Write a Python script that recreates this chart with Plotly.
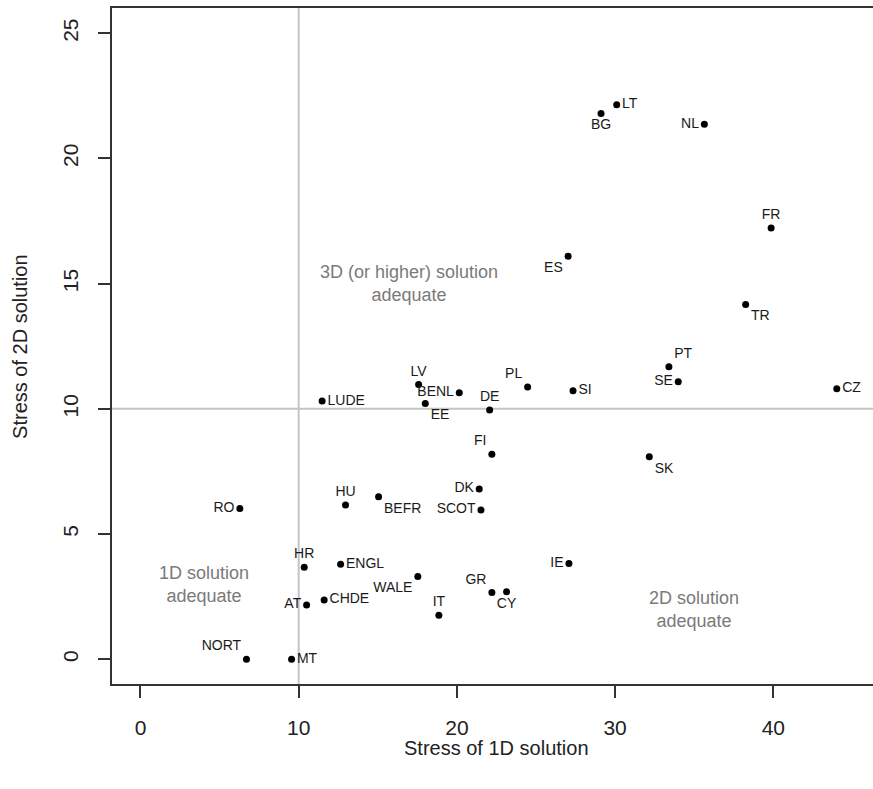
import plotly.graph_objects as go

# ---- data ----
countries = ["LT", "BG", "NL", "FR", "ES", "TR", "PT", "SE", "CZ", "SK",
             "SI", "PL", "DE", "FI", "LV", "BENL", "EE", "LUDE", "RO", "HU",
             "BEFR", "DK", "SCOT", "HR", "ENGL", "WALE", "IE", "GR", "CY", "AT",
             "CHDE", "IT", "NORT", "MT"]
stress_1d = [30.10, 29.11, 35.64, 39.86, 27.03, 38.25, 33.40, 33.99, 44.01, 32.16,
             27.34, 24.47, 22.07, 22.21, 17.58, 20.15, 18.00, 11.48, 6.28, 12.96,
             15.05, 21.41, 21.52, 10.35, 12.65, 17.53, 27.08, 22.21, 23.14, 10.50,
             11.61, 18.86, 6.70, 9.55]
stress_2d = [22.15, 21.80, 21.37, 17.22, 16.09, 14.17, 11.68, 11.08, 10.80, 8.09,
             10.72, 10.87, 9.95, 8.19, 10.97, 10.64, 10.21, 10.31, 6.02, 6.16,
             6.49, 6.80, 5.96, 3.67, 3.79, 3.30, 3.82, 2.66, 2.69, 2.17,
             2.37, 1.76, 0.00, 0.00]
x_ticks = [0, 10, 20, 30, 40]
y_ticks = [0, 5, 10, 15, 20, 25]
threshold_1d = 10
threshold_2d = 10
region_texts = ["3D (or higher) solution<br>adequate",
                "1D solution<br>adequate",
                "2D solution<br>adequate"]
region_x = [17, 4, 35]
region_y = [15, 3, 2]

# ---- label placement (style) ----
label_pos = {
    "LT": "middle right", "BG": "bottom center", "NL": "middle left",
    "FR": "top center", "ES": "bottom left", "TR": "bottom right",
    "PT": "top right", "SE": "middle left", "CZ": "middle right",
    "SK": "bottom right", "SI": "middle right", "PL": "top left",
    "DE": "top center", "FI": "top left", "LV": "top center",
    "BENL": "middle left", "EE": "bottom right", "LUDE": "middle right",
    "RO": "middle left", "HU": "top center", "BEFR": "bottom right",
    "DK": "middle left", "SCOT": "middle left", "HR": "top center",
    "ENGL": "middle right", "WALE": "bottom left", "IE": "middle left",
    "GR": "top left", "CY": "bottom center", "AT": "middle left",
    "CHDE": "middle right", "IT": "top center", "NORT": "top left",
    "MT": "middle right",
}

FONT = "Liberation Sans, Arial, Helvetica, sans-serif"
AXIS_COLOR = "#333333"

fig = go.Figure()

fig.add_trace(go.Scatter(
    x=stress_1d, y=stress_2d, text=countries,
    mode="markers+text",
    textposition=[label_pos[c] for c in countries],
    marker=dict(color="black", size=7),
    textfont=dict(family=FONT, size=14, color="#1a1a1a"),
    cliponaxis=False, hoverinfo="x+y+text", showlegend=False,
))

# reference threshold lines
fig.add_shape(type="line", xref="x", yref="paper", x0=threshold_1d, x1=threshold_1d,
              y0=0, y1=1, line=dict(color="#c4c4c4", width=2), layer="below")
fig.add_shape(type="line", xref="paper", yref="y", x0=0, x1=1,
              y0=threshold_2d, y1=threshold_2d, line=dict(color="#c4c4c4", width=2), layer="below")

for t, xv, yv in zip(region_texts, region_x, region_y):
    fig.add_annotation(x=xv, y=yv, text=t, showarrow=False,
                       font=dict(family=FONT, size=18, color="#7a7a7a"),
                       align="center", xanchor="center", yanchor="middle")

# axis titles
fig.add_annotation(xref="paper", yref="paper", x=0.505, y=-0.0947,
                   text="Stress of 1D solution", showarrow=False,
                   font=dict(family=FONT, size=20, color="#222222"),
                   xanchor="center", yanchor="middle")
fig.add_annotation(xref="paper", yref="paper", x=-0.121, y=0.5,
                   text="Stress of 2D solution", showarrow=False, textangle=-90,
                   font=dict(family=FONT, size=20, color="#222222"),
                   xanchor="center", yanchor="middle")

fig.update_layout(
    width=873, height=789,
    margin=dict(l=112, r=0, t=8, b=105),
    paper_bgcolor="white", plot_bgcolor="white",
    font=dict(family=FONT, color="#222222"),
    xaxis=dict(range=[-1.8, 46.3], tickvals=x_ticks, showgrid=False, zeroline=False,
               showline=True, linecolor=AXIS_COLOR, linewidth=2, mirror=True,
               ticks="outside", ticklen=12, tickwidth=2, tickcolor=AXIS_COLOR,
               tickfont=dict(family=FONT, size=21, color="#222222"),
               ticklabelstandoff=12),
    yaxis=dict(range=[-0.99, 26.01], tickvals=y_ticks, showgrid=False, zeroline=False,
               showline=True, linecolor=AXIS_COLOR, linewidth=2, mirror=False,
               ticks="outside", ticklen=12, tickwidth=2, tickcolor=AXIS_COLOR,
               tickangle=-90,
               tickfont=dict(family=FONT, size=21, color="#222222"),
               ticklabelstandoff=12),
)

fig.write_html("out.html")
